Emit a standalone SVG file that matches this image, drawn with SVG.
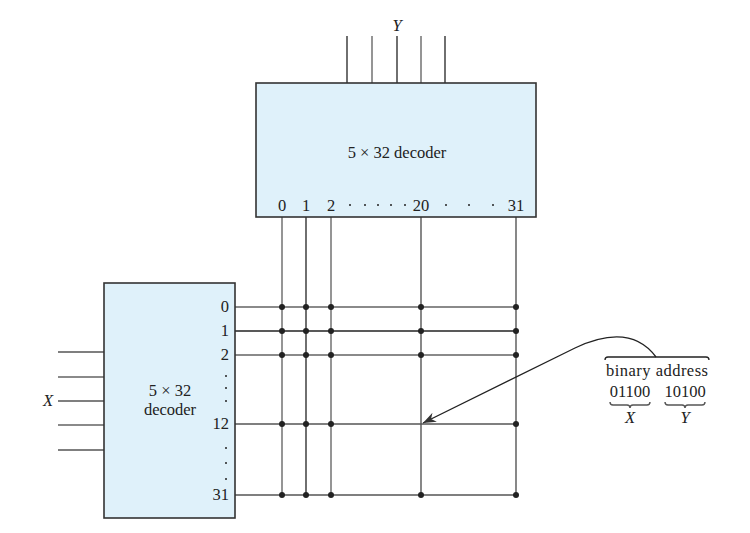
<svg xmlns="http://www.w3.org/2000/svg" width="750" height="533" viewBox="0 0 750 533">
<style>
.box{fill:#dff1fa;stroke:#333;stroke-width:1.6}
.t{font-family:"Liberation Serif",serif;font-size:16.5px;fill:#222}
.i{font-style:italic}
.k{stroke:#222;stroke-width:1.3;fill:none}
.g{stroke:#8a8a8a;stroke-width:1.8;fill:none}
.d{stroke:#555;stroke-width:1.4;fill:none}
.dot{fill:#222}
</style>
<defs>
<marker id="ah" markerWidth="14" markerHeight="10" refX="13" refY="5" orient="auto" markerUnits="userSpaceOnUse">
<path d="M0,0 L13,5 L0,10 L4,5 Z" fill="#333"/>
</marker>
</defs>
<rect width="750" height="533" fill="#fff"/>
<g id="connectors">
<line class="k" x1="347" y1="36" x2="347" y2="83"/>
<line class="g" x1="372" y1="36" x2="372" y2="83"/>
<line class="k" x1="397" y1="36" x2="397" y2="83"/>
<line class="g" x1="421" y1="36" x2="421" y2="83"/>
<line class="k" x1="445" y1="36" x2="445" y2="83"/>
<line class="d" x1="58" y1="352" x2="104" y2="352"/>
<line class="g" x1="58" y1="377" x2="104" y2="377"/>
<line class="d" x1="58" y1="401" x2="104" y2="401"/>
<line class="g" x1="58" y1="425" x2="104" y2="425"/>
<line class="d" x1="58" y1="450" x2="104" y2="450"/>
<line class="g" x1="282" y1="217" x2="282" y2="495"/>
<line class="k" x1="306" y1="217" x2="306" y2="495"/>
<line class="g" x1="331" y1="217" x2="331" y2="495"/>
<line class="d" x1="421" y1="217" x2="421" y2="495"/>
<line class="d" x1="516" y1="217" x2="516" y2="495"/>
<line class="g" x1="235" y1="307" x2="516" y2="307"/>
<line class="k" x1="235" y1="331" x2="516" y2="331"/>
<line class="g" x1="235" y1="355" x2="516" y2="355"/>
<line class="d" x1="235" y1="424" x2="516" y2="424"/>
<line class="d" x1="235" y1="495" x2="516" y2="495"/>
<path class="k" d="M656,357 Q630,322 575,348 L423,423" marker-end="url(#ah)"/>
</g>
<g id="dots">
<circle class="dot" cx="282" cy="307" r="3"/><circle class="dot" cx="306" cy="307" r="3"/><circle class="dot" cx="331" cy="307" r="3"/><circle class="dot" cx="421" cy="307" r="3"/><circle class="dot" cx="516" cy="307" r="3"/>
<circle class="dot" cx="282" cy="331" r="3"/><circle class="dot" cx="306" cy="331" r="3"/><circle class="dot" cx="331" cy="331" r="3"/><circle class="dot" cx="421" cy="331" r="3"/><circle class="dot" cx="516" cy="331" r="3"/>
<circle class="dot" cx="282" cy="355" r="3"/><circle class="dot" cx="306" cy="355" r="3"/><circle class="dot" cx="331" cy="355" r="3"/><circle class="dot" cx="421" cy="355" r="3"/><circle class="dot" cx="516" cy="355" r="3"/>
<circle class="dot" cx="282" cy="424" r="3"/><circle class="dot" cx="306" cy="424" r="3"/><circle class="dot" cx="331" cy="424" r="3"/><circle class="dot" cx="516" cy="424" r="3"/>
<circle class="dot" cx="282" cy="495" r="3"/><circle class="dot" cx="306" cy="495" r="3"/><circle class="dot" cx="331" cy="495" r="3"/><circle class="dot" cx="421" cy="495" r="3"/><circle class="dot" cx="516" cy="495" r="3"/>
</g>
<g id="decoderY">
<rect class="box" x="256" y="83" width="280" height="134"/>
<text class="t" x="397" y="158" text-anchor="middle">5 × 32 decoder</text>
<text class="t" x="282" y="211" text-anchor="middle">0</text>
<text class="t" x="306" y="211" text-anchor="middle">1</text>
<text class="t" x="331" y="211" text-anchor="middle">2</text>
<circle class="dot" cx="350" cy="205" r="1"/><circle class="dot" cx="365" cy="205" r="1"/><circle class="dot" cx="378" cy="205" r="1"/><circle class="dot" cx="391" cy="205" r="1"/><circle class="dot" cx="405" cy="205" r="1"/>
<text class="t" x="421" y="211" text-anchor="middle">20</text>
<circle class="dot" cx="446" cy="205" r="1"/><circle class="dot" cx="469" cy="205" r="1"/><circle class="dot" cx="493" cy="205" r="1"/>
<text class="t" x="516" y="211" text-anchor="middle">31</text>
<text class="t i" x="397" y="31" text-anchor="middle">Y</text>
</g>
<g id="decoderX">
<rect class="box" x="104" y="283" width="131" height="235"/>
<text class="t" x="170" y="396" text-anchor="middle">5 × 32</text>
<text class="t" x="170" y="415" text-anchor="middle">decoder</text>
<text class="t" x="229" y="312" text-anchor="end">0</text>
<text class="t" x="229" y="336" text-anchor="end">1</text>
<text class="t" x="229" y="360" text-anchor="end">2</text>
<text class="t" x="229" y="429" text-anchor="end">12</text>
<text class="t" x="229" y="500" text-anchor="end">31</text>
<circle class="dot" cx="226" cy="376" r="1"/><circle class="dot" cx="226" cy="388" r="1"/><circle class="dot" cx="226" cy="401" r="1"/>
<circle class="dot" cx="226" cy="448" r="1"/><circle class="dot" cx="226" cy="463" r="1"/><circle class="dot" cx="226" cy="479" r="1"/>
<text class="t i" x="48" y="406" text-anchor="middle">X</text>
</g>
<g id="address">
<path class="k" d="M605,360 Q605,357 608,357 L706,357 Q709,357 709,360"/>
<text class="t" x="657" y="376" text-anchor="middle" textLength="102">binary address</text>
<text class="t" x="630" y="397" text-anchor="middle">01100</text>
<text class="t" x="685" y="397" text-anchor="middle">10100</text>
<path class="d" d="M610,402 Q610,405 613,405 L627,405 Q630,405 630,408 Q630,405 633,405 L647,405 Q650,405 650,402"/>
<path class="d" d="M665,402 Q665,405 668,405 L682,405 Q685,405 685,408 Q685,405 688,405 L702,405 Q705,405 705,402"/>
<text class="t i" x="630" y="423" text-anchor="middle">X</text>
<text class="t i" x="685" y="423" text-anchor="middle">Y</text>
</g>
</svg>
